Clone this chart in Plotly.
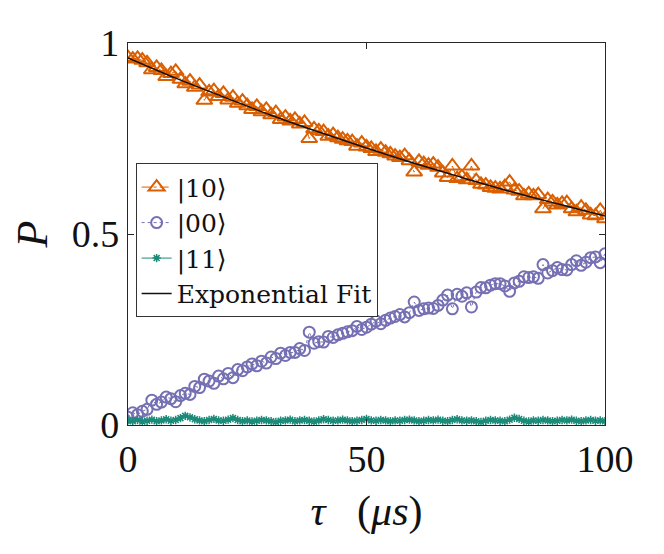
import plotly.graph_objects as go

tau = list(range(0, 101))

p10 = [0.962, 0.958, 0.960, 0.955, 0.948, 0.930, 0.936, 0.928, 0.912, 0.920,
       0.926, 0.905, 0.893, 0.900, 0.884, 0.890, 0.850, 0.872, 0.875, 0.860,
       0.868, 0.851, 0.858, 0.842, 0.848, 0.836, 0.826, 0.834, 0.820, 0.826,
       0.812, 0.818, 0.800, 0.806, 0.796, 0.800, 0.788, 0.792, 0.750, 0.775,
       0.770, 0.768, 0.756, 0.760, 0.752, 0.748, 0.744, 0.742, 0.730, 0.738,
       0.728, 0.724, 0.716, 0.722, 0.714, 0.710, 0.704, 0.700, 0.705, 0.692,
       0.662, 0.690, 0.684, 0.680, 0.683, 0.675, 0.660, 0.648, 0.678, 0.645,
       0.650, 0.642, 0.678, 0.640, 0.630, 0.628, 0.622, 0.620, 0.618, 0.624,
       0.636, 0.615, 0.612, 0.600, 0.605, 0.600, 0.603, 0.566, 0.590, 0.584,
       0.576, 0.580, 0.582, 0.566, 0.558, 0.570, 0.562, 0.550, 0.548, 0.562,
       0.540]

p00 = [0.020, 0.032, 0.027, 0.036, 0.041, 0.065, 0.054, 0.060, 0.073, 0.069,
       0.061, 0.077, 0.083, 0.080, 0.101, 0.098, 0.120, 0.115, 0.109, 0.128,
       0.121, 0.135, 0.124, 0.145, 0.142, 0.152, 0.160, 0.155, 0.167, 0.162,
       0.178, 0.174, 0.188, 0.182, 0.190, 0.190, 0.200, 0.195, 0.243, 0.214,
       0.218, 0.217, 0.232, 0.229, 0.236, 0.240, 0.244, 0.247, 0.258, 0.250,
       0.256, 0.264, 0.272, 0.265, 0.274, 0.280, 0.284, 0.289, 0.283, 0.294,
       0.322, 0.300, 0.304, 0.306, 0.305, 0.313, 0.327, 0.340, 0.304, 0.342,
       0.337, 0.346, 0.309, 0.348, 0.360, 0.359, 0.366, 0.370, 0.370, 0.364,
       0.350, 0.372, 0.376, 0.388, 0.386, 0.388, 0.384, 0.420, 0.398, 0.404,
       0.412, 0.407, 0.406, 0.420, 0.430, 0.418, 0.426, 0.438, 0.440, 0.425,
       0.448]

p11 = [0.012, 0.010, 0.013, 0.009, 0.011, 0.014, 0.010, 0.012, 0.015, 0.011,
       0.013, 0.018, 0.024, 0.020, 0.015, 0.012, 0.010, 0.013, 0.016, 0.012,
       0.011, 0.014, 0.018, 0.013, 0.010, 0.012, 0.009, 0.011, 0.013, 0.012,
       0.010, 0.008, 0.011, 0.012, 0.014, 0.010, 0.012, 0.013, 0.011, 0.009,
       0.012, 0.015, 0.013, 0.011, 0.012, 0.014, 0.012, 0.010, 0.011, 0.013,
       0.016, 0.012, 0.011, 0.013, 0.012, 0.010, 0.012, 0.011, 0.013, 0.014,
       0.012, 0.010, 0.011, 0.013, 0.012, 0.014, 0.011, 0.010, 0.013, 0.015,
       0.012, 0.011, 0.012, 0.010, 0.008, 0.011, 0.013, 0.012, 0.011, 0.010,
       0.014, 0.019, 0.016, 0.011, 0.009, 0.012, 0.011, 0.013, 0.012, 0.010,
       0.011, 0.013, 0.012, 0.014, 0.011, 0.010, 0.012, 0.013, 0.011, 0.012,
       0.010]

fit_tau = [0, 10, 20, 30, 40, 50, 60, 70, 80, 90, 100]
fit_p = [0.961, 0.908, 0.859, 0.811, 0.767, 0.725, 0.685, 0.648, 0.612, 0.579, 0.547]

x_ticks = [0, 50, 100]
y_ticks = [0, 0.5, 1]
y_tick_text = ["0", "0.5", "1"]

ORANGE = "#D95F02"
PURPLE = "#7570B3"
TEAL = "#1B8A78"
FONT = "Liberation Serif"
LEG_FONT = "DejaVu Serif"

fig = go.Figure()
fig.add_trace(go.Scatter(
    x=tau, y=p10, mode="lines+markers", name="|10⟩",
    line=dict(color=ORANGE, width=1, dash="dashdot"),
    marker=dict(symbol="triangle-up-open", size=14, color=ORANGE,
                line=dict(width=2, color=ORANGE))))
fig.add_trace(go.Scatter(
    x=tau, y=p00, mode="lines+markers", name="|00⟩",
    line=dict(color=PURPLE, width=1, dash="dot"),
    marker=dict(symbol="circle-open", size=11, color=PURPLE,
                line=dict(width=2, color=PURPLE))))
fig.add_trace(go.Scatter(
    x=tau, y=p11, mode="lines+markers", name="|11⟩",
    line=dict(color=TEAL, width=1),
    marker=dict(symbol="asterisk-open", size=7, color=TEAL,
                line=dict(width=1.5, color=TEAL))))
fig.add_trace(go.Scatter(
    x=fit_tau, y=fit_p, mode="lines", name="Exponential Fit",
    line=dict(color="#111111", width=1.5, shape="spline")))

axis_common = dict(
    showgrid=False, zeroline=False, showline=True, linecolor="#262626",
    linewidth=1.2, mirror="ticks", ticks="inside", ticklen=6,
    tickcolor="#262626", tickfont=dict(family=FONT, size=38, color="#111111"),
)

fig.update_xaxes(range=[0, 100], tickvals=x_ticks, ticktext=[str(v) for v in x_ticks],
                 title=dict(text="<i>τ</i>   (<i>μs</i>)", font=dict(family=FONT, size=42, color="#111111"),
                            standoff=16),
                 **axis_common)
fig.update_yaxes(range=[0, 1], tickvals=y_ticks, ticktext=y_tick_text,
                 title=dict(text="<i>P</i>", font=dict(family=FONT, size=44, color="#111111"),
                            standoff=18),
                 **axis_common)

fig.update_layout(
    width=664, height=554,
    margin=dict(l=120, r=67, t=35, b=137),
    paper_bgcolor="white", plot_bgcolor="white",
    legend=dict(x=0.016, y=0.685, xanchor="left", yanchor="top",
                bgcolor="white", bordercolor="#333333", borderwidth=1,
                font=dict(family=LEG_FONT, size=25, color="#111111"),
                tracegroupgap=0, itemwidth=30),
    showlegend=True,
)

fig.write_html("out.html")
